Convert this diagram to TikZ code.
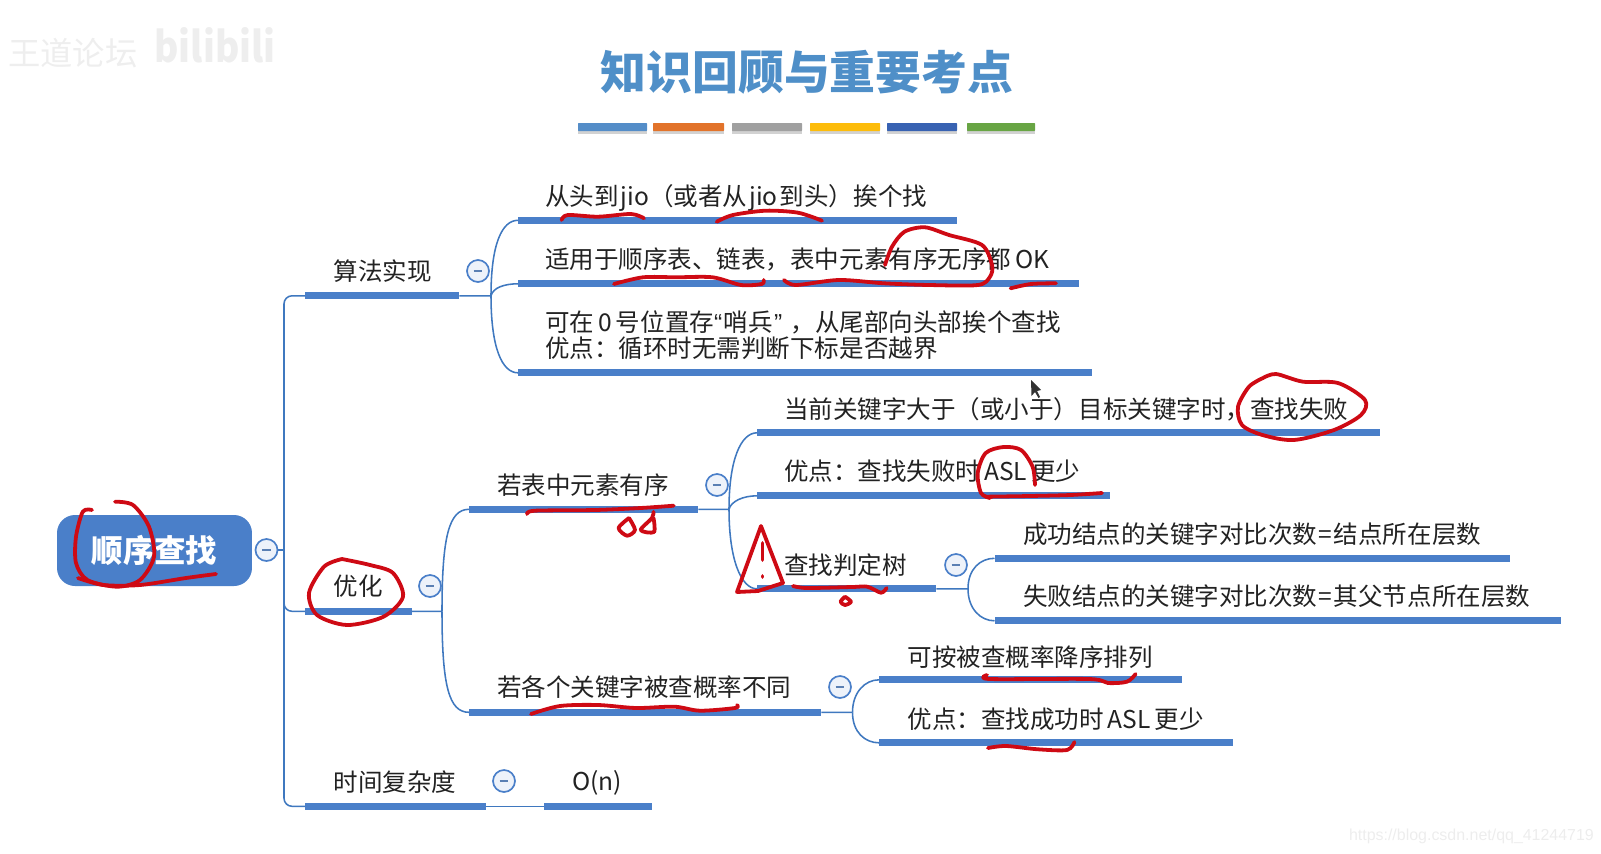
\documentclass[tikz,border=0pt]{standalone}
\usepackage{fontspec}
\setmainfont{Noto Sans CJK SC}
\newfontfamily\latinfont{Liberation Sans}
\definecolor{mapblue}{HTML}{4A7FC9}
\definecolor{linkblue}{HTML}{3F78BF}
\definecolor{titleblue}{HTML}{4F8FC8}
\definecolor{penred}{HTML}{CE0A14}
\definecolor{inkgray}{HTML}{222222}
\begin{document}
\begin{tikzpicture}[x=0.05cm, y=-0.05cm,
    every node/.style={font=\fontsize{34.9}{37}\selectfont, text=inkgray},
    topic/.style={anchor=west, inner sep=0pt, align=left},
    tbar/.style={anchor=west, inner sep=0pt, fill=mapblue, yshift=-0.04cm, minimum height=0.34cm, minimum width=#1*0.05cm},
    btn/.style={circle, draw=mapblue, fill=mapblue!10, line width=2.4pt, inner sep=0pt, minimum size=1.1cm,
      path picture={\draw[mapblue!70!gray, line width=2pt] ([xshift=-0.22cm]path picture bounding box.center) -- ([xshift=0.22cm]path picture bounding box.center);}},
    link/.style={draw=linkblue, line width=2.2pt, rounded corners=0.4cm},
    pen/.style={draw=penred, line width=5.4pt, line cap=round, line join=round},
    faint/.style={text=gray!13, font=\fontsize{46}{50}\selectfont}]
  \useasboundingbox (0,0) rectangle (1601,854);
  % watermarks
  \node[faint] (wm) at (73,53) {王道论坛};
  \node[faint, font=\fontsize{60}{64}\selectfont\bfseries, xscale=0.88] (bili) at (215,45) {bilibili};
  \node[text=gray!14, font=\fontsize{22.7}{25}\selectfont\latinfont, anchor=east, inner sep=0pt] (csdn) at (1594,836) {https://blog.csdn.net/qq\_41244719};
  % title
  \node[text=titleblue, font=\fontsize{65.2}{70}\selectfont\bfseries] (title) at (807,72) {知识回顾与重要考点};
  \fill[gray!35] (578,124.5) rectangle (647,133.5);
  \fill[gray!35] (653,124.5) rectangle (724,133.5);
  \fill[gray!35] (732,124.5) rectangle (802,133.5);
  \fill[gray!35] (810,124.5) rectangle (880,133.5);
  \fill[gray!35] (887,124.5) rectangle (957,133.5);
  \fill[gray!35] (967,124.5) rectangle (1035,133.5);
  \fill[rounded corners=1pt, color={rgb,255:red,84;green,141;blue,200}] (578,123) rectangle (647,131);
  \fill[rounded corners=1pt, color={rgb,255:red,226;green,115;blue,42}] (653,123) rectangle (724,131);
  \fill[rounded corners=1pt, color={rgb,255:red,160;green,160;blue,160}] (732,123) rectangle (802,131);
  \fill[rounded corners=1pt, color={rgb,255:red,253;green,188;blue,10}] (810,123) rectangle (880,131);
  \fill[rounded corners=1pt, color={rgb,255:red,56;green,98;blue,178}] (887,123) rectangle (957,131);
  \fill[rounded corners=1pt, color={rgb,255:red,104;green,165;blue,68}] (967,123) rectangle (1035,131);
  % root
  \node[fill=mapblue, rounded corners=0.9cm, minimum width=9.75cm, minimum height=3.55cm, inner sep=0pt, text=white, font=\fontsize{44.8}{48}\selectfont\bfseries] (root) at (154.5,550.5) {顺序查找};
  \node[btn] (btnroot) at (266.5,550) {};
  \coordinate (jroot) at (284,550);
  % first level
  \node[tbar=154] (barsuanfa) at (305,295) {};
  \node[tbar=106.5] (baryouhua) at (305,610.5) {};
  \node[tbar=181] (bartime) at (305,805.5) {};
  \node[tbar=108] (baron) at (544,805.5) {};
  \node[topic] (suanfa) at (333.5,271.5) {算法实现};
  \node[topic] (youhua) at (333.5,586.5) {优化};
  \node[topic] (shijian) at (333.5,782) {时间复杂度};
  \node[topic] (on) at (572,783) {O(n)};
  \node[btn] (btnsuanfa) at (478,271) {};
  \node[btn] (btnyouhua) at (430,586) {};
  \node[btn] (btntime) at (504,781) {};
  \draw[link] (btnroot) -- (jroot);
  \draw[link] (jroot) |- (barsuanfa.west);
  \draw[link] (jroot) |- (baryouhua.west);
  \draw[link] (jroot) |- (bartime.west);
  \draw[link] (bartime.east) -- (baron.west);
  % algorithm
  \coordinate (jsuanfa) at (491,295.8);
  \node[tbar=439] (bara) at (518,219.5) {};
  \node[tbar=561] (barb) at (518,283) {};
  \node[tbar=573.5] (barc) at (518,372) {};
  \node[topic] (texta) at (545,198) {从头到\kern3pt jio（或者从\kern3pt jio\kern3pt 到头）挨个找};
  \node[topic] (textb) at (545,259.5) {适用于顺序表、链表，表中元素有序无序都\,OK};
  \node[topic] (textc) at (545,335.5) {可在\,0\,号位置存{\latinfont “}\kern2pt 哨兵\kern2pt{\latinfont ”}\kern12pt，从尾部向头部挨个查找\\优点：循环时无需判断下标是否越界};
  \draw[link] (barsuanfa.east) -- (jsuanfa);
  \draw[link] (jsuanfa) .. controls +(0,-52) and +(-16,0) .. (bara.west);
  \draw[link] (jsuanfa) .. controls +(2,-8) and +(-14,0) .. (barb.west);
  \draw[link] (jsuanfa) .. controls +(0,52) and +(-16,0) .. (barc.west);
  % optimise
  \coordinate (jyouhua) at (442,611.3);
  \node[tbar=229] (barord) at (469,508.5) {};
  \node[tbar=352] (barprob) at (469,711.5) {};
  \node[topic] (ord) at (497,485.5) {若表中元素有序};
  \node[topic] (prob) at (497,687.5) {若各个关键字被查概率不同};
  \node[btn] (btnord) at (717,485) {};
  \node[btn] (btnprob) at (840,687) {};
  \draw[link] (baryouhua.east) -- (jyouhua);
  \draw[link] (jyouhua) .. controls +(0,-75) and +(-20,0) .. (barord.west);
  \draw[link] (jyouhua) .. controls +(0,75) and +(-20,0) .. (barprob.west);
  % ordered table
  \coordinate (jord) at (729,509.3);
  \node[tbar=623] (bard) at (757,432) {};
  \node[tbar=353] (bare) at (757,495) {};
  \node[tbar=179] (bartree) at (757,588) {};
  \node[topic] (textd) at (784,409) {当前关键字大于（或小于）目标关键字时，查找失败};
  \node[topic] (texte) at (784,471.5) {优点：查找失败时\,ASL\,更少};
  \node[topic] (tree) at (784,565.5) {查找判定树};
  \node[btn] (btntree) at (956,565) {};
  \draw[link] (barord.east) -- (jord);
  \draw[link] (jord) .. controls +(0,-50) and +(-16,0) .. (bard.west);
  \draw[link] (jord) .. controls +(2,-8) and +(-14,0) .. (bare.west);
  \draw[link] (jord) .. controls +(0,50) and +(-16,0) .. (bartree.west);
  % search tree
  \coordinate (jtree) at (968,588.8);
  \node[tbar=515.5] (barf) at (994.5,557.5) {};
  \node[tbar=566.5] (barg) at (994.5,620) {};
  \node[topic] (textf) at (1023,534) {成功结点的关键字对比次数\kern2pt=\kern2pt 结点所在层数};
  \node[topic] (textg) at (1023,596.5) {失败结点的关键字对比次数\kern2pt=\kern2pt 其父节点所在层数};
  \draw[link] (bartree.east) -- (jtree);
  \draw[link] (jtree) .. controls +(0,-20) and +(-14,0) .. (barf.west);
  \draw[link] (jtree) .. controls +(0,20) and +(-14,0) .. (barg.west);
  % different probability
  \coordinate (jprob) at (852.5,712.3);
  \node[tbar=303] (barh) at (879,679) {};
  \node[tbar=354] (bari) at (879,742) {};
  \node[topic] (texth) at (907.5,657) {可按被查概率降序排列};
  \node[topic] (texti) at (907.5,719.5) {优点：查找成功时\,ASL\,更少};
  \draw[link] (barprob.east) -- (jprob);
  \draw[link] (jprob) .. controls +(0,-20) and +(-14,0) .. (barh.west);
  \draw[link] (jprob) .. controls +(0,20) and +(-14,0) .. (bari.west);
  % pen marks
  \draw[pen] plot[smooth] coordinates {(561.6,220) (567.8,215) (598,216.7) (631,214) (644,218.3)};
  \draw[pen] plot[smooth] coordinates {(716.7,221.7) (733,215) (765.7,210.7) (798,212.7) (822,220.7)};
  \draw[pen] plot[smooth] coordinates {(614,284) (643,277.3) (676,277.3) (712.7,277.3) (741,285) (761.6,284) (763.7,280)};
  \draw[pen] plot[smooth] coordinates {(784,280) (796,285) (839,280) (884,283.3) (929,285) (978,285) (990,276.7) (992,265) (982,245) (949,235) (925,227.3) (904.5,231.7) (892,246.7) (885,265)};
  \draw[pen] plot[smooth] coordinates {(1010.6,288.3) (1031,284) (1056,283.3)};
  \draw[pen] plot[smooth] coordinates {(1263,378) (1276,374) (1303,381.7) (1338,383) (1365,400) (1361,415) (1334,430) (1294,440) (1262.5,435) (1242,425) (1238,406.7) (1249,386.7) (1263,378)};
  \draw[pen] plot[smooth] coordinates {(1035,485) (1032.6,466.7) (1021,450) (1003.6,447) (985.7,453) (977.7,473) (981,493) (990,498)};
  \draw[pen] plot[smooth] coordinates {(985.7,496.7) (1030,496) (1070.5,495) (1102,493)};
  \draw[pen] (761,526) -- (737,592) -- (758,591) -- (783,583) -- cycle;
  \draw[pen] (762.5,543) -- (762.5,560);
  \draw[pen] (762.5,576) -- (762.5,577);
  \draw[pen] plot[smooth] coordinates {(793,586) (807,588) (852,587) (867.4,586.7) (881,592.7) (886.6,588)};
  \draw[pen] plot[smooth] coordinates {(845,596.7) (840.6,601.7) (845,605) (851,601.7) (845,596.7)};
  \draw[pen] plot[smooth] coordinates {(92,510) (82.8,511.7) (76,536.7) (76,563) (87.4,580) (117,586.7) (140,580) (154,556.7) (149,526.7) (133,505) (115,501.7)};
  \draw[pen] plot[smooth] coordinates {(78,578) (103.5,585) (140,585) (186,578) (216,574)};
  \draw[pen] plot[smooth] coordinates {(342,559) (324,566.7) (309,593) (317,615) (347,625) (383.5,616.7) (403,596.7) (393,573) (370,565) (342,559)};
  \draw[pen] plot[smooth] coordinates {(527,514) (535,510.7) (595,510) (640.7,508) (673.7,505.7)};
  \draw[pen] plot[smooth] coordinates {(629,518) (618.6,528) (627,535.7) (635,530) (629,518)};
  \draw[pen] plot[smooth] coordinates {(653.5,511.7) (652,518) (640.7,530) (654,532) (653.5,518)};
  \draw[pen] plot[smooth] coordinates {(531,714) (560,706) (598,705) (636,708) (674.5,706.7) (700,710.7) (735,708) (737,705)};
  \draw[pen] plot[smooth] coordinates {(987,675) (990,679) (1089,679) (1108,683) (1127,681.7) (1135.6,674)};
  \draw[pen] plot[smooth] coordinates {(988,748) (1006,746) (1038,749.3) (1067,750) (1074.4,742)};
  % cursor
  \fill[black!80] (1031,380) -- (1031.5,396) -- (1035,392) -- (1038.5,398) -- (1040,397) -- (1037,391) -- (1041,390) -- cycle;
\end{tikzpicture}
\end{document}
